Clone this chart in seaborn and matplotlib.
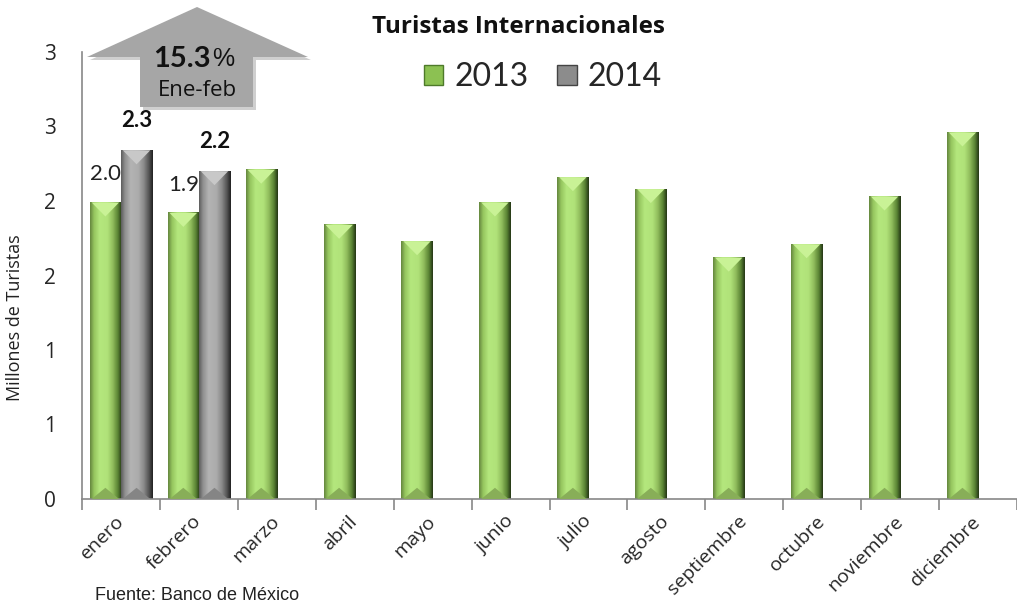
import numpy as np
import pandas as pd
import matplotlib
matplotlib.use("Agg")
import matplotlib.pyplot as plt
from matplotlib.colors import LinearSegmentedColormap
from matplotlib.patches import Polygon, Patch
from matplotlib.ticker import FuncFormatter
import seaborn as sns

# datos (millones de turistas)
meses = ["enero", "febrero", "marzo", "abril", "mayo", "junio", "julio",
         "agosto", "septiembre", "octubre", "noviembre", "diciembre"]
turistas_2013 = [1.99, 1.92, 2.21, 1.84, 1.73, 1.99, 2.16, 2.08, 1.62, 1.71, 2.03, 2.46]
turistas_2014 = [2.34, 2.20]
anios = ["2013", "2014"]
variacion = "15.3"
periodo = "Ene-feb"

df = pd.DataFrame({
    "mes": meses + meses[:len(turistas_2014)],
    "anio": ["2013"] * len(turistas_2013) + ["2014"] * len(turistas_2014),
    "valor": turistas_2013 + turistas_2014,
})

sns.set_theme(style="white")
plt.rcParams["font.family"] = ["Liberation Sans", "DejaVu Sans"]
lato = ["Lato", "DejaVu Sans"]
opens = ["Open Sans", "DejaVu Sans"]

W, H = 1017, 606
fig = plt.figure(figsize=(W / 100, H / 100), dpi=100)
ax = fig.add_axes([82 / W, (H - 499) / H, 1 - 82 / W, (499 - 52) / H])

verde = "#9BCB62"
gris = "#9A9A9A"
sns.barplot(data=df, x="mes", y="valor", hue="anio", order=meses, hue_order=anios,
            palette=[verde, gris], width=0.8, saturation=1, legend=False, ax=ax)

# relleno degradado tipo "bisel" de Excel
cmap_verde = LinearSegmentedColormap.from_list("v", [
    (0.0, "#66883F"), (0.12, "#95C55E"), (0.3, "#B4E77D"), (0.55, "#B0E279"),
    (0.72, "#90BC5C"), (0.88, "#5A8434"), (1.0, "#263816")])
cmap_gris = LinearSegmentedColormap.from_list("g", [
    (0.0, "#5E5E5E"), (0.12, "#909090"), (0.3, "#B3B3B3"), (0.55, "#ABABAB"),
    (0.72, "#8A8A8A"), (0.88, "#555555"), (1.0, "#222222")])
tope = {0: "#C9F296", 1: "#C8C8C8"}
base = {0: "#88AE58", 1: "#858585"}

ymax = 3
d = 14 / (499 - 52) * ymax
grad = np.linspace(0, 1, 64)[np.newaxis, :]
for i, cont in enumerate(ax.containers):
    cmap = cmap_verde if i == 0 else cmap_gris
    for p in cont:
        x0, y0, w, h = p.get_x(), p.get_y(), p.get_width(), p.get_height()
        if np.isnan(h):
            continue
        p.set_facecolor("none")
        p.set_edgecolor("none")
        ax.imshow(grad, extent=[x0, x0 + w, y0, y0 + h], aspect="auto",
                  cmap=cmap, origin="lower", zorder=2, interpolation="bilinear")
        ax.add_patch(Polygon([(x0 + w * 0.06, h), (x0 + w * 0.94, h), (x0 + w / 2, h - d)],
                             closed=True, facecolor=tope[i], edgecolor="none", zorder=3))
        ax.add_patch(Polygon([(x0 + w * 0.06, 0), (x0 + w * 0.94, 0), (x0 + w / 2, d * 0.8)],
                             closed=True, facecolor=base[i], edgecolor="none", zorder=3))

# etiquetas de valor
etq_2013 = [f"{v:.1f}" if k < len(turistas_2014) else "" for k, v in enumerate(turistas_2013)]
etq_2014 = [f"{v:.1f}" for v in turistas_2014]
ax.bar_label(ax.containers[0], labels=etq_2013, padding=13, fontsize=16,
             family=lato, color="#222222")
ax.bar_label(ax.containers[1], labels=etq_2014, padding=14, fontsize=16,
             family=lato, fontweight="bold", color="#111111")

ax.set_xlim(-0.5, len(meses) - 0.5)
ax.set_ylim(0, ymax)
ax.set_xlabel("")
ax.set_ylabel("")

sns.despine(ax=ax)
for s in ["left", "bottom"]:
    ax.spines[s].set_color("#888888")
    ax.spines[s].set_linewidth(1.2)

ax.set_yticks(np.arange(0, ymax + 0.01, 0.5))
ax.yaxis.set_major_formatter(FuncFormatter(lambda v, pos: f"{int(v + 0.5)}"))
ax.tick_params(axis="y", direction="out", length=8, width=1.2, color="#888888",
               pad=11, labelsize=15)
for t in ax.get_yticklabels():
    t.set_family(opens)

ax.set_xticks(np.arange(-0.5, len(meses), 1), minor=True)
ax.tick_params(axis="x", which="minor", direction="out", length=8, width=1.2,
               color="#888888", bottom=True)
ax.tick_params(axis="x", which="major", length=0, pad=14, labelsize=14)
ax.set_xticks(range(len(meses)))
ax.set_xticklabels(meses, rotation=45, ha="right", va="center", rotation_mode="anchor",
                   family=opens)

# flecha de variacion
def px(x, y):
    return (x / W, 1 - y / H)

flecha = [(197, 7), (308, 57), (253, 57), (253, 107), (140, 107), (140, 57), (87, 57)]
sombra = Polygon([px(x + 3, y + 3) for x, y in flecha], closed=True,
                 transform=fig.transFigure, facecolor="#CFCFCF", edgecolor="none", zorder=1)
cuerpo = Polygon([px(x, y) for x, y in flecha], closed=True,
                 transform=fig.transFigure, facecolor="#A6A6A6", edgecolor="none", zorder=2)
fig.patches.extend([sombra, cuerpo])
fig.text(211 / W, 1 - 59 / H, variacion, ha="right", va="center", fontsize=21,
         fontweight="bold", family=lato, color="#111111")
fig.text(212 / W, 1 - 59 / H, "%", ha="left", va="center", fontsize=18, color="#111111")
fig.text(197 / W, 1 - 90 / H, periodo, ha="center", va="center", fontsize=16,
         family=opens, color="#111111")

fig.text(518 / W, 1 - 27 / H, "Turistas Internacionales", ha="center", va="center",
         fontsize=17.5, fontweight="bold", family=opens, color="#111111")

handles = [Patch(facecolor="#8CC152", edgecolor="#4E7A2A"),
           Patch(facecolor="#8C8C8C", edgecolor="#444444")]
leg = fig.legend(handles, anios, loc="center", bbox_to_anchor=(543 / W, 1 - 77 / H),
                 ncol=2, frameon=False, handlelength=0.6, handleheight=0.6,
                 handletextpad=0.35, columnspacing=0.9, prop={"family": lato, "size": 23})

fig.text(15 / W, 1 - 318 / H, "Millones de Turistas", rotation=90, ha="center",
         va="center", fontsize=13, family=opens, color="#222222")
fig.text(95 / W, 1 - 604 / H, "Fuente: Banco de México", ha="left", va="bottom",
         fontsize=13, color="#222222")

fig.savefig("out.png", dpi=100)
